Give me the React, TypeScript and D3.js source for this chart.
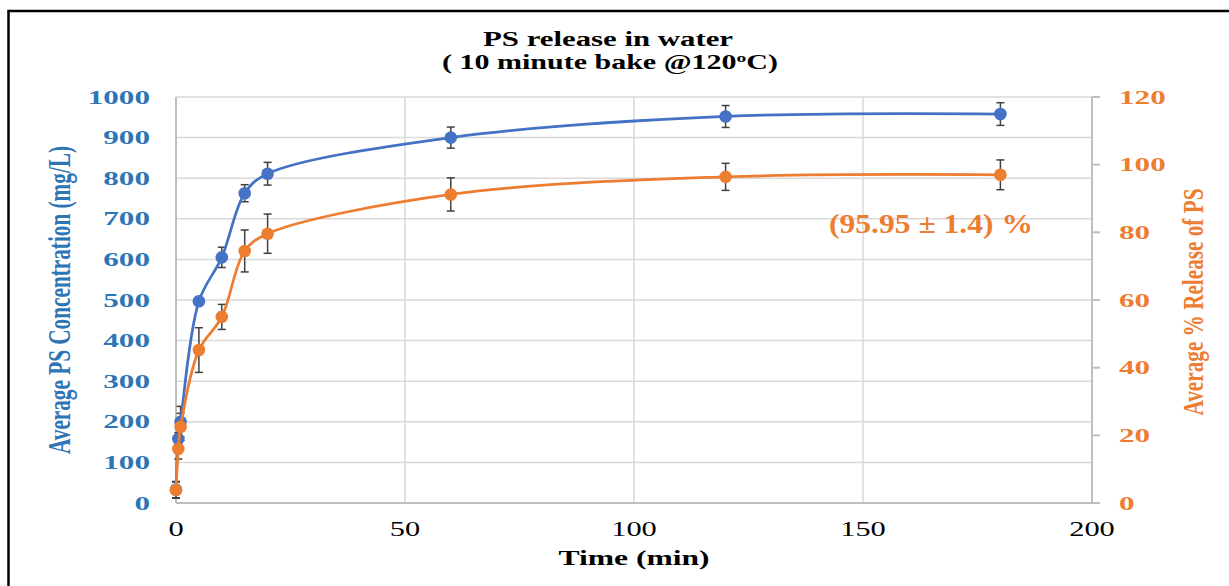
import React, { useEffect, useRef } from 'react';
import * as d3 from 'd3';

// time points (min)
const times = [0, 0.5, 1, 5, 10, 15, 20, 60, 120, 180];
// average PS concentration (mg/L) and its error
const concValues = [33, 158, 200, 497, 605, 763, 811, 900, 952, 958];
const concErrors = [20, 15, 38, 6, 25, 21, 28, 26, 27, 28];
// average % release of PS and its error
const releaseValues = [3.8, 16, 22.5, 45.2, 55, 74.5, 79.6, 91.2, 96.4, 97];
const releaseErrors = [2.4, 3, 4, 6.6, 3.7, 6.2, 5.8, 4.9, 4, 4.4];

const xTicks = [0, 50, 100, 150, 200];
const leftTicks = [0, 100, 200, 300, 400, 500, 600, 700, 800, 900, 1000];
const rightTicks = [0, 20, 40, 60, 80, 100, 120];

const BLUE = '#4472C4';
const ORANGE = '#ED7D31';
const BLUE_TEXT = '#2E75B6';
const SERIF = '"Liberation Serif", "Times New Roman", serif';
const SX = 1.6; // the picture's text is stretched sideways

const App: React.FC = () => {
  const svgRef = useRef<SVGSVGElement>(null);

  useEffect(() => {
    if (!svgRef.current) return;
    const svg = d3.select(svgRef.current);
    svg.selectAll('*').remove();

    const left = 176, right = 1092, top = 97, bottom = 503;

    const x = d3.scaleLinear().domain([0, 200]).range([left, right]);
    const yL = d3.scaleLinear().domain([0, 1000]).range([bottom, top]);
    const yR = d3.scaleLinear().domain([0, 120]).range([bottom, top]);

    // outer frame
    svg.append('rect')
      .attr('x', 8.5).attr('y', 11)
      .attr('width', 1300).attr('height', 700)
      .attr('fill', 'none').attr('stroke', '#000').attr('stroke-width', 2.5);

    // gridlines
    const grid = svg.append('g').attr('stroke', '#D9D9D9').attr('stroke-width', 1.5);
    grid.selectAll('line.h')
      .data(leftTicks.filter(d => d > 0))
      .join('line')
      .attr('x1', left).attr('x2', right)
      .attr('y1', d => yL(d)).attr('y2', d => yL(d));
    grid.selectAll('line.v')
      .data(xTicks.filter(d => d > 0))
      .join('line')
      .attr('x1', d => x(d)).attr('x2', d => x(d))
      .attr('y1', top).attr('y2', bottom);

    // axis lines
    const axes = svg.append('g').attr('stroke', '#BFBFBF').attr('stroke-width', 2);
    axes.append('line').attr('x1', left).attr('x2', left).attr('y1', top).attr('y2', bottom);
    axes.append('line').attr('x1', left).attr('x2', right).attr('y1', bottom).attr('y2', bottom);
    axes.append('line').attr('x1', right).attr('x2', right).attr('y1', top).attr('y2', bottom);
    axes.selectAll('line.rt')
      .data(rightTicks)
      .join('line')
      .attr('x1', right).attr('x2', right + 8)
      .attr('y1', d => yR(d)).attr('y2', d => yR(d));

    // tick labels
    svg.append('g')
      .selectAll('text')
      .data(leftTicks)
      .join('text')
      .attr('transform', d => `translate(150,${yL(d)}) scale(${SX},1)`)
      .attr('dy', '0.34em')
      .attr('text-anchor', 'end')
      .attr('font-family', SERIF).attr('font-size', 19.5).attr('font-weight', 'bold')
      .attr('fill', BLUE_TEXT)
      .text(d => d);

    svg.append('g')
      .selectAll('text')
      .data(rightTicks)
      .join('text')
      .attr('transform', d => `translate(1119,${yR(d)}) scale(${SX},1)`)
      .attr('dy', '0.34em')
      .attr('text-anchor', 'start')
      .attr('font-family', SERIF).attr('font-size', 19.5).attr('font-weight', 'bold')
      .attr('fill', ORANGE)
      .text(d => d);

    svg.append('g')
      .selectAll('text')
      .data(xTicks)
      .join('text')
      .attr('transform', d => `translate(${x(d)},536) scale(1.45,1)`)
      .attr('text-anchor', 'middle')
      .attr('font-family', SERIF).attr('font-size', 21)
      .attr('fill', '#000')
      .text(d => d);

    // titles
    svg.append('text')
      .attr('x', 608).attr('y', 46)
      .attr('text-anchor', 'middle')
      .attr('font-family', SERIF).attr('font-size', 20).attr('font-weight', 'bold')
      .attr('textLength', 250).attr('lengthAdjust', 'spacingAndGlyphs')
      .text('PS release in water');
    const sub = svg.append('text')
      .attr('x', 610).attr('y', 69)
      .attr('text-anchor', 'middle')
      .attr('font-family', SERIF).attr('font-size', 20).attr('font-weight', 'bold')
      .attr('textLength', 336).attr('lengthAdjust', 'spacingAndGlyphs');
    sub.append('tspan').text('( 10 minute bake @120');
    sub.append('tspan').attr('font-size', 13).attr('dy', -7).text('o');
    sub.append('tspan').attr('dy', 7).text('C)');

    svg.append('text')
      .attr('x', 634).attr('y', 565)
      .attr('text-anchor', 'middle')
      .attr('font-family', SERIF).attr('font-size', 20).attr('font-weight', 'bold')
      .attr('textLength', 151).attr('lengthAdjust', 'spacingAndGlyphs')
      .text('Time (min)');

    svg.append('text')
      .attr('transform', 'translate(70,300) rotate(-90) scale(1,1.5)')
      .attr('text-anchor', 'middle')
      .attr('font-family', SERIF).attr('font-size', 21).attr('font-weight', 'bold')
      .attr('fill', BLUE_TEXT)
      .attr('textLength', 308).attr('lengthAdjust', 'spacingAndGlyphs')
      .text('Average PS Concentration (mg/L)');

    svg.append('text')
      .attr('transform', 'translate(1203,302) rotate(-90) scale(1,1.45)')
      .attr('text-anchor', 'middle')
      .attr('font-family', SERIF).attr('font-size', 21).attr('font-weight', 'bold')
      .attr('fill', ORANGE)
      .attr('textLength', 227).attr('lengthAdjust', 'spacingAndGlyphs')
      .text('Average % Release of PS');

    svg.append('text')
      .attr('x', 931).attr('y', 233)
      .attr('text-anchor', 'middle')
      .attr('font-family', SERIF).attr('font-size', 27).attr('font-weight', 'bold')
      .attr('fill', ORANGE)
      .attr('textLength', 204).attr('lengthAdjust', 'spacingAndGlyphs')
      .text('(95.95 ± 1.4) %');

    // series
    const series = [
      { values: concValues, errors: concErrors, y: yL, color: BLUE },
      { values: releaseValues, errors: releaseErrors, y: yR, color: ORANGE },
    ];

    series.forEach(s => {
      const pts = times.map((t, i) => ({ t, v: s.values[i], e: s.errors[i] }));

      // error bars
      const eb = svg.append('g').attr('stroke', '#404040').attr('stroke-width', 1.5);
      eb.selectAll('line.bar')
        .data(pts)
        .join('line')
        .attr('x1', d => x(d.t)).attr('x2', d => x(d.t))
        .attr('y1', d => s.y(d.v - d.e)).attr('y2', d => s.y(d.v + d.e));
      eb.selectAll('line.capT')
        .data(pts)
        .join('line')
        .attr('x1', d => x(d.t) - 4).attr('x2', d => x(d.t) + 4)
        .attr('y1', d => s.y(d.v + d.e)).attr('y2', d => s.y(d.v + d.e));
      eb.selectAll('line.capB')
        .data(pts)
        .join('line')
        .attr('x1', d => x(d.t) - 4).attr('x2', d => x(d.t) + 4)
        .attr('y1', d => s.y(d.v - d.e)).attr('y2', d => s.y(d.v - d.e));
    });

    series.forEach(s => {
      const pts = times.map((t, i) => ({ t, v: s.values[i] }));
      const line = d3.line<{ t: number; v: number }>()
        .x(d => x(d.t))
        .y(d => s.y(d.v))
        .curve(d3.curveCatmullRom.alpha(0.5));

      svg.append('path')
        .datum(pts)
        .attr('d', line)
        .attr('fill', 'none')
        .attr('stroke', s.color)
        .attr('stroke-width', 2.75);

      svg.append('g')
        .selectAll('circle')
        .data(pts)
        .join('circle')
        .attr('cx', d => x(d.t))
        .attr('cy', d => s.y(d.v))
        .attr('r', 6.3)
        .attr('fill', s.color);
    });
  }, []);

  return (
    <svg
      ref={svgRef}
      width={1229}
      height={586}
      style={{ position: 'absolute', left: 0, top: 0, background: '#fff' }}
    ></svg>
  );
};

export default App;
